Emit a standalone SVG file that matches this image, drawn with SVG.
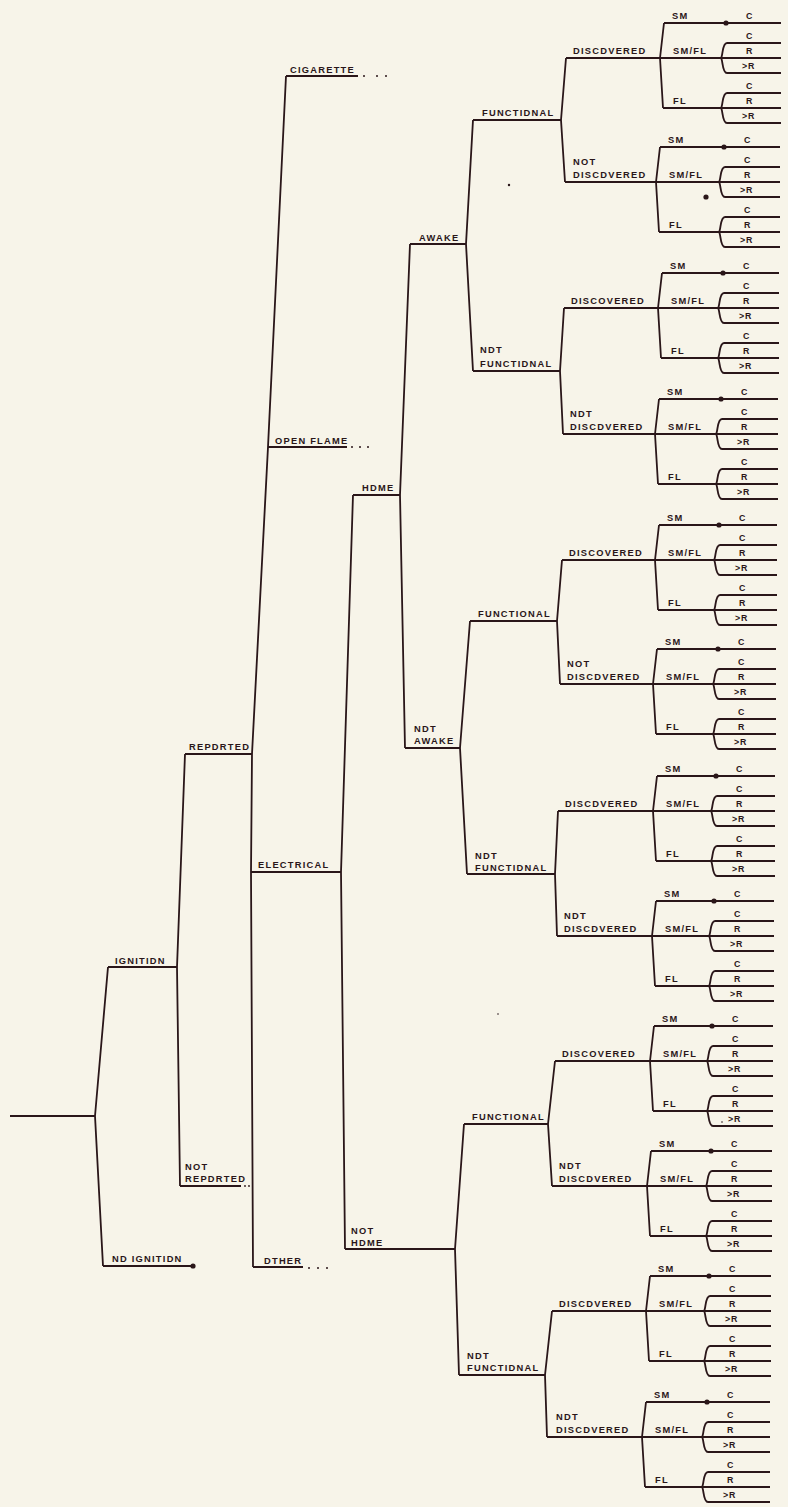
<svg xmlns="http://www.w3.org/2000/svg" width="788" height="1507" viewBox="0 0 788 1507">
<style>
.ln{fill:none;stroke:#2a1619;stroke-width:1.8;stroke-linejoin:round}
.t{font-family:"Liberation Sans",Arial,Helvetica,sans-serif;font-weight:bold;font-size:9.3px;letter-spacing:1.25px;fill:#2a1619}
.l{font-family:"Liberation Sans",Arial,Helvetica,sans-serif;font-weight:bold;font-size:8.8px;letter-spacing:0.8px;fill:#2a1619}
.d{fill:#2a1619}
</style>
<rect width="788" height="1507" fill="#f7f4e9"/>
<g id="connectors">
<path class="ln" d="M10 1116H95M108 967L95 1116L103 1266M108 967H177M103 1266H192M185 754L177 967L180 1186M185 754H252M180 1186H241M286 76L268 447L252 754L251 872L253 1267M286 76H358M268 447H347M251 872H341M253 1267H303M353 495L341 872L345 1249M353 495H400M345 1249H455M410 244L400 495L405 748M410 244H466M405 748H460M473 120L466 244L473 371M470 621L460 748L467 874M464 1124L455 1249L459 1375M473 120H561M473 371H560M470 621H557M467 874H555M464 1124H548M459 1375H545M566 58L561 120L565 182M564 308L560 371L563 434M562 560L557 621L560 684M558 811L555 874L557 936M555 1061L548 1124L552 1186M552 1311L545 1375L547 1437M566 58H660M565 182H656M564 308H658M563 434H655M562 560H655M560 684H653M558 811H653M557 936H652M555 1061H650M552 1186H647M552 1311H646M547 1437H642"/>
<path class="ln" d="M664 23H781M664 23L660 58L663 108M660 58H781M663 108H781M727 43H781M727 73H781M727 93H781M727 123H781M727 43C722 43 723 56 721 58C723 60 722 73 727 73M727 93C722 93 723 106 721 108C723 110 722 123 727 123"/>
<path class="ln" d="M660 147H780M660 147L656 182L659 232M656 182H780M659 232H780M725 167H780M725 197H780M725 217H780M725 247H780M725 167C720 167 721 180 719 182C721 184 720 197 725 197M725 217C720 217 721 230 719 232C721 234 720 247 725 247"/>
<path class="ln" d="M662 273H779M662 273L658 308L661 358M658 308H779M661 358H779M724 293H779M724 323H779M724 343H779M724 373H779M724 293C719 293 720 306 718 308C720 310 719 323 724 323M724 343C719 343 720 356 718 358C720 360 719 373 724 373"/>
<path class="ln" d="M659 399H778M659 399L655 434L658 484M655 434H778M658 484H778M722 419H778M722 449H778M722 469H778M722 499H778M722 419C717 419 718 432 716 434C718 436 717 449 722 449M722 469C717 469 718 482 716 484C718 486 717 499 722 499"/>
<path class="ln" d="M659 525H777M659 525L655 560L658 610M655 560H777M658 610H777M720 545H777M720 575H777M720 595H777M720 625H777M720 545C715 545 716 558 714 560C716 562 715 575 720 575M720 595C715 595 716 608 714 610C716 612 715 625 720 625"/>
<path class="ln" d="M657 649H776M657 649L653 684L656 734M653 684H776M656 734H776M719 669H776M719 699H776M719 719H776M719 749H776M719 669C714 669 715 682 713 684C715 686 714 699 719 699M719 719C714 719 715 732 713 734C715 736 714 749 719 749"/>
<path class="ln" d="M657 776H775M657 776L653 811L656 861M653 811H775M656 861H775M717 796H775M717 826H775M717 846H775M717 876H775M717 796C712 796 713 809 711 811C713 813 712 826 717 826M717 846C712 846 713 859 711 861C713 863 712 876 717 876"/>
<path class="ln" d="M656 901H774M656 901L652 936L655 986M652 936H774M655 986H774M715 921H774M715 951H774M715 971H774M715 1001H774M715 921C710 921 711 934 709 936C711 938 710 951 715 951M715 971C710 971 711 984 709 986C711 988 710 1001 715 1001"/>
<path class="ln" d="M654 1026H773M654 1026L650 1061L653 1111M650 1061H773M653 1111H773M713 1046H773M713 1076H773M713 1096H773M713 1126H773M713 1046C708 1046 709 1059 707 1061C709 1063 708 1076 713 1076M713 1096C708 1096 709 1109 707 1111C709 1113 708 1126 713 1126"/>
<path class="ln" d="M651 1151H772M651 1151L647 1186L650 1236M647 1186H772M650 1236H772M712 1171H772M712 1201H772M712 1221H772M712 1251H772M712 1171C707 1171 708 1184 706 1186C708 1188 707 1201 712 1201M712 1221C707 1221 708 1234 706 1236C708 1238 707 1251 712 1251"/>
<path class="ln" d="M650 1276H771M650 1276L646 1311L649 1361M646 1311H771M649 1361H771M710 1296H771M710 1326H771M710 1346H771M710 1376H771M710 1296C705 1296 706 1309 704 1311C706 1313 705 1326 710 1326M710 1346C705 1346 706 1359 704 1361C706 1363 705 1376 710 1376"/>
<path class="ln" d="M646 1402H770M646 1402L642 1437L645 1487M642 1437H770M645 1487H770M708 1422H770M708 1452H770M708 1472H770M708 1502H770M708 1422C703 1422 704 1435 702 1437C704 1439 703 1452 708 1452M708 1472C703 1472 704 1485 702 1487C704 1489 703 1502 708 1502"/>
</g>
<g id="n-ignition"><text class="t" x="115" y="964">IGNITIDN</text></g>
<g id="n-no-ignition"><text class="t" x="112" y="1262">ND IGNITIDN</text><circle class="d" cx="193" cy="1266" r="2.6"/></g>
<g id="n-reported"><text class="t" x="189" y="750">REPDRTED</text></g>
<g id="n-not-reported"><text class="t" x="185" y="1170">NOT</text><text class="t" x="185" y="1182">REPDRTED</text><circle class="d" cx="245" cy="1186" r="0.9"/><circle class="d" cx="249" cy="1186" r="0.9"/></g>
<g id="n-cigarette"><text class="t" x="290" y="73">CIGARETTE</text><circle class="d" cx="364" cy="76" r="1"/><circle class="d" cx="377" cy="76" r="1"/><circle class="d" cx="386" cy="76" r="1"/></g>
<g id="n-open-flame"><text class="t" x="275" y="444">OPEN FLAME</text><circle class="d" cx="352" cy="447" r="1"/><circle class="d" cx="360" cy="447" r="1"/><circle class="d" cx="368" cy="447" r="1"/></g>
<g id="n-electrical"><text class="t" x="258" y="868">ELECTRICAL</text></g>
<g id="n-other"><text class="t" x="264" y="1264">DTHER</text><circle class="d" cx="309" cy="1268" r="1"/><circle class="d" cx="318" cy="1268" r="1"/><circle class="d" cx="327" cy="1268" r="1"/></g>
<g id="n-home"><text class="t" x="362" y="491">HDME</text></g>
<g id="n-not-home"><text class="t" x="351" y="1234">NOT</text><text class="t" x="351" y="1246">HDME</text></g>
<g id="n-awake"><text class="t" x="419" y="241">AWAKE</text></g>
<g id="n-not-awake"><text class="t" x="414" y="732">NDT</text><text class="t" x="414" y="744">AWAKE</text></g>
<g id="n-f1"><text class="t" x="482" y="116">FUNCTIDNAL</text></g>
<g id="n-nf1"><text class="t" x="480" y="353">NDT</text><text class="t" x="480" y="367">FUNCTIDNAL</text></g>
<g id="n-f2"><text class="t" x="478" y="617">FUNCTIONAL</text></g>
<g id="n-nf2"><text class="t" x="475" y="859">NDT</text><text class="t" x="475" y="871">FUNCTIDNAL</text></g>
<g id="n-f3"><text class="t" x="472" y="1120">FUNCTIONAL</text></g>
<g id="n-nf3"><text class="t" x="467" y="1359">NDT</text><text class="t" x="467" y="1371">FUNCTIDNAL</text></g>
<g id="n-d1"><text class="t" x="573" y="54">DISCDVERED</text></g>
<g id="n-nd1"><text class="t" x="573" y="165">NOT</text><text class="t" x="573" y="178">DISCDVERED</text></g>
<g id="n-d2"><text class="t" x="571" y="304">DISCOVERED</text></g>
<g id="n-nd2"><text class="t" x="570" y="417">NDT</text><text class="t" x="570" y="430">DISCDVERED</text></g>
<g id="n-d3"><text class="t" x="569" y="556">DISCOVERED</text></g>
<g id="n-nd3"><text class="t" x="567" y="667">NOT</text><text class="t" x="567" y="680">DISCDVERED</text></g>
<g id="n-d4"><text class="t" x="565" y="807">DISCDVERED</text></g>
<g id="n-nd4"><text class="t" x="564" y="919">NDT</text><text class="t" x="564" y="932">DISCDVERED</text></g>
<g id="n-d5"><text class="t" x="562" y="1057">DISCOVERED</text></g>
<g id="n-nd5"><text class="t" x="559" y="1169">NDT</text><text class="t" x="559" y="1182">DISCDVERED</text></g>
<g id="n-d6"><text class="t" x="559" y="1307">DISCDVERED</text></g>
<g id="n-nd6"><text class="t" x="556" y="1420">NDT</text><text class="t" x="556" y="1433">DISCDVERED</text></g>
<g id="leaf1"><circle class="d" cx="726" cy="23" r="2.6"/><text class="t" x="672" y="19">SM</text><text class="l" x="746" y="19">C</text><text class="t" x="673" y="54">SM/FL</text><text class="l" x="746" y="39">C</text><text class="l" x="746" y="54">R</text><text class="l" x="742" y="69">&gt;R</text><text class="t" x="673" y="104">FL</text><text class="l" x="746" y="89">C</text><text class="l" x="746" y="104">R</text><text class="l" x="742" y="119">&gt;R</text></g>
<g id="leaf2"><circle class="d" cx="724" cy="147" r="2.6"/><text class="t" x="668" y="143">SM</text><text class="l" x="744" y="143">C</text><text class="t" x="669" y="178">SM/FL</text><text class="l" x="744" y="163">C</text><text class="l" x="744" y="178">R</text><text class="l" x="740" y="193">&gt;R</text><text class="t" x="669" y="228">FL</text><text class="l" x="744" y="213">C</text><text class="l" x="744" y="228">R</text><text class="l" x="740" y="243">&gt;R</text></g>
<g id="leaf3"><circle class="d" cx="723" cy="273" r="2.6"/><text class="t" x="670" y="269">SM</text><text class="l" x="743" y="269">C</text><text class="t" x="671" y="304">SM/FL</text><text class="l" x="743" y="289">C</text><text class="l" x="743" y="304">R</text><text class="l" x="739" y="319">&gt;R</text><text class="t" x="671" y="354">FL</text><text class="l" x="743" y="339">C</text><text class="l" x="743" y="354">R</text><text class="l" x="739" y="369">&gt;R</text></g>
<g id="leaf4"><circle class="d" cx="721" cy="399" r="2.6"/><text class="t" x="667" y="395">SM</text><text class="l" x="741" y="395">C</text><text class="t" x="668" y="430">SM/FL</text><text class="l" x="741" y="415">C</text><text class="l" x="741" y="430">R</text><text class="l" x="737" y="445">&gt;R</text><text class="t" x="668" y="480">FL</text><text class="l" x="741" y="465">C</text><text class="l" x="741" y="480">R</text><text class="l" x="737" y="495">&gt;R</text></g>
<g id="leaf5"><circle class="d" cx="719" cy="525" r="2.6"/><text class="t" x="667" y="521">SM</text><text class="l" x="739" y="521">C</text><text class="t" x="668" y="556">SM/FL</text><text class="l" x="739" y="541">C</text><text class="l" x="739" y="556">R</text><text class="l" x="735" y="571">&gt;R</text><text class="t" x="668" y="606">FL</text><text class="l" x="739" y="591">C</text><text class="l" x="739" y="606">R</text><text class="l" x="735" y="621">&gt;R</text></g>
<g id="leaf6"><circle class="d" cx="718" cy="649" r="2.6"/><text class="t" x="665" y="645">SM</text><text class="l" x="738" y="645">C</text><text class="t" x="666" y="680">SM/FL</text><text class="l" x="738" y="665">C</text><text class="l" x="738" y="680">R</text><text class="l" x="734" y="695">&gt;R</text><text class="t" x="666" y="730">FL</text><text class="l" x="738" y="715">C</text><text class="l" x="738" y="730">R</text><text class="l" x="734" y="745">&gt;R</text></g>
<g id="leaf7"><circle class="d" cx="716" cy="776" r="2.6"/><text class="t" x="665" y="772">SM</text><text class="l" x="736" y="772">C</text><text class="t" x="666" y="807">SM/FL</text><text class="l" x="736" y="792">C</text><text class="l" x="736" y="807">R</text><text class="l" x="732" y="822">&gt;R</text><text class="t" x="666" y="857">FL</text><text class="l" x="736" y="842">C</text><text class="l" x="736" y="857">R</text><text class="l" x="732" y="872">&gt;R</text></g>
<g id="leaf8"><circle class="d" cx="714" cy="901" r="2.6"/><text class="t" x="664" y="897">SM</text><text class="l" x="734" y="897">C</text><text class="t" x="665" y="932">SM/FL</text><text class="l" x="734" y="917">C</text><text class="l" x="734" y="932">R</text><text class="l" x="730" y="947">&gt;R</text><text class="t" x="665" y="982">FL</text><text class="l" x="734" y="967">C</text><text class="l" x="734" y="982">R</text><text class="l" x="730" y="997">&gt;R</text></g>
<g id="leaf9"><circle class="d" cx="712" cy="1026" r="2.6"/><text class="t" x="662" y="1022">SM</text><text class="l" x="732" y="1022">C</text><text class="t" x="663" y="1057">SM/FL</text><text class="l" x="732" y="1042">C</text><text class="l" x="732" y="1057">R</text><text class="l" x="728" y="1072">&gt;R</text><text class="t" x="663" y="1107">FL</text><text class="l" x="732" y="1092">C</text><text class="l" x="732" y="1107">R</text><text class="l" x="728" y="1122">&gt;R</text></g>
<g id="leaf10"><circle class="d" cx="711" cy="1151" r="2.6"/><text class="t" x="659" y="1147">SM</text><text class="l" x="731" y="1147">C</text><text class="t" x="660" y="1182">SM/FL</text><text class="l" x="731" y="1167">C</text><text class="l" x="731" y="1182">R</text><text class="l" x="727" y="1197">&gt;R</text><text class="t" x="660" y="1232">FL</text><text class="l" x="731" y="1217">C</text><text class="l" x="731" y="1232">R</text><text class="l" x="727" y="1247">&gt;R</text></g>
<g id="leaf11"><circle class="d" cx="709" cy="1276" r="2.6"/><text class="t" x="658" y="1272">SM</text><text class="l" x="729" y="1272">C</text><text class="t" x="659" y="1307">SM/FL</text><text class="l" x="729" y="1292">C</text><text class="l" x="729" y="1307">R</text><text class="l" x="725" y="1322">&gt;R</text><text class="t" x="659" y="1357">FL</text><text class="l" x="729" y="1342">C</text><text class="l" x="729" y="1357">R</text><text class="l" x="725" y="1372">&gt;R</text></g>
<g id="leaf12"><circle class="d" cx="707" cy="1402" r="2.6"/><text class="t" x="654" y="1398">SM</text><text class="l" x="727" y="1398">C</text><text class="t" x="655" y="1433">SM/FL</text><text class="l" x="727" y="1418">C</text><text class="l" x="727" y="1433">R</text><text class="l" x="723" y="1448">&gt;R</text><text class="t" x="655" y="1483">FL</text><text class="l" x="727" y="1468">C</text><text class="l" x="727" y="1483">R</text><text class="l" x="723" y="1498">&gt;R</text></g>
<g id="marks"><circle class="d" cx="509" cy="185" r="1.2"/><circle class="d" cx="706" cy="197" r="2.6"/><circle class="d" cx="498" cy="1014" r="0.8"/><circle class="d" cx="722" cy="1122" r="0.8"/></g>
</svg>
